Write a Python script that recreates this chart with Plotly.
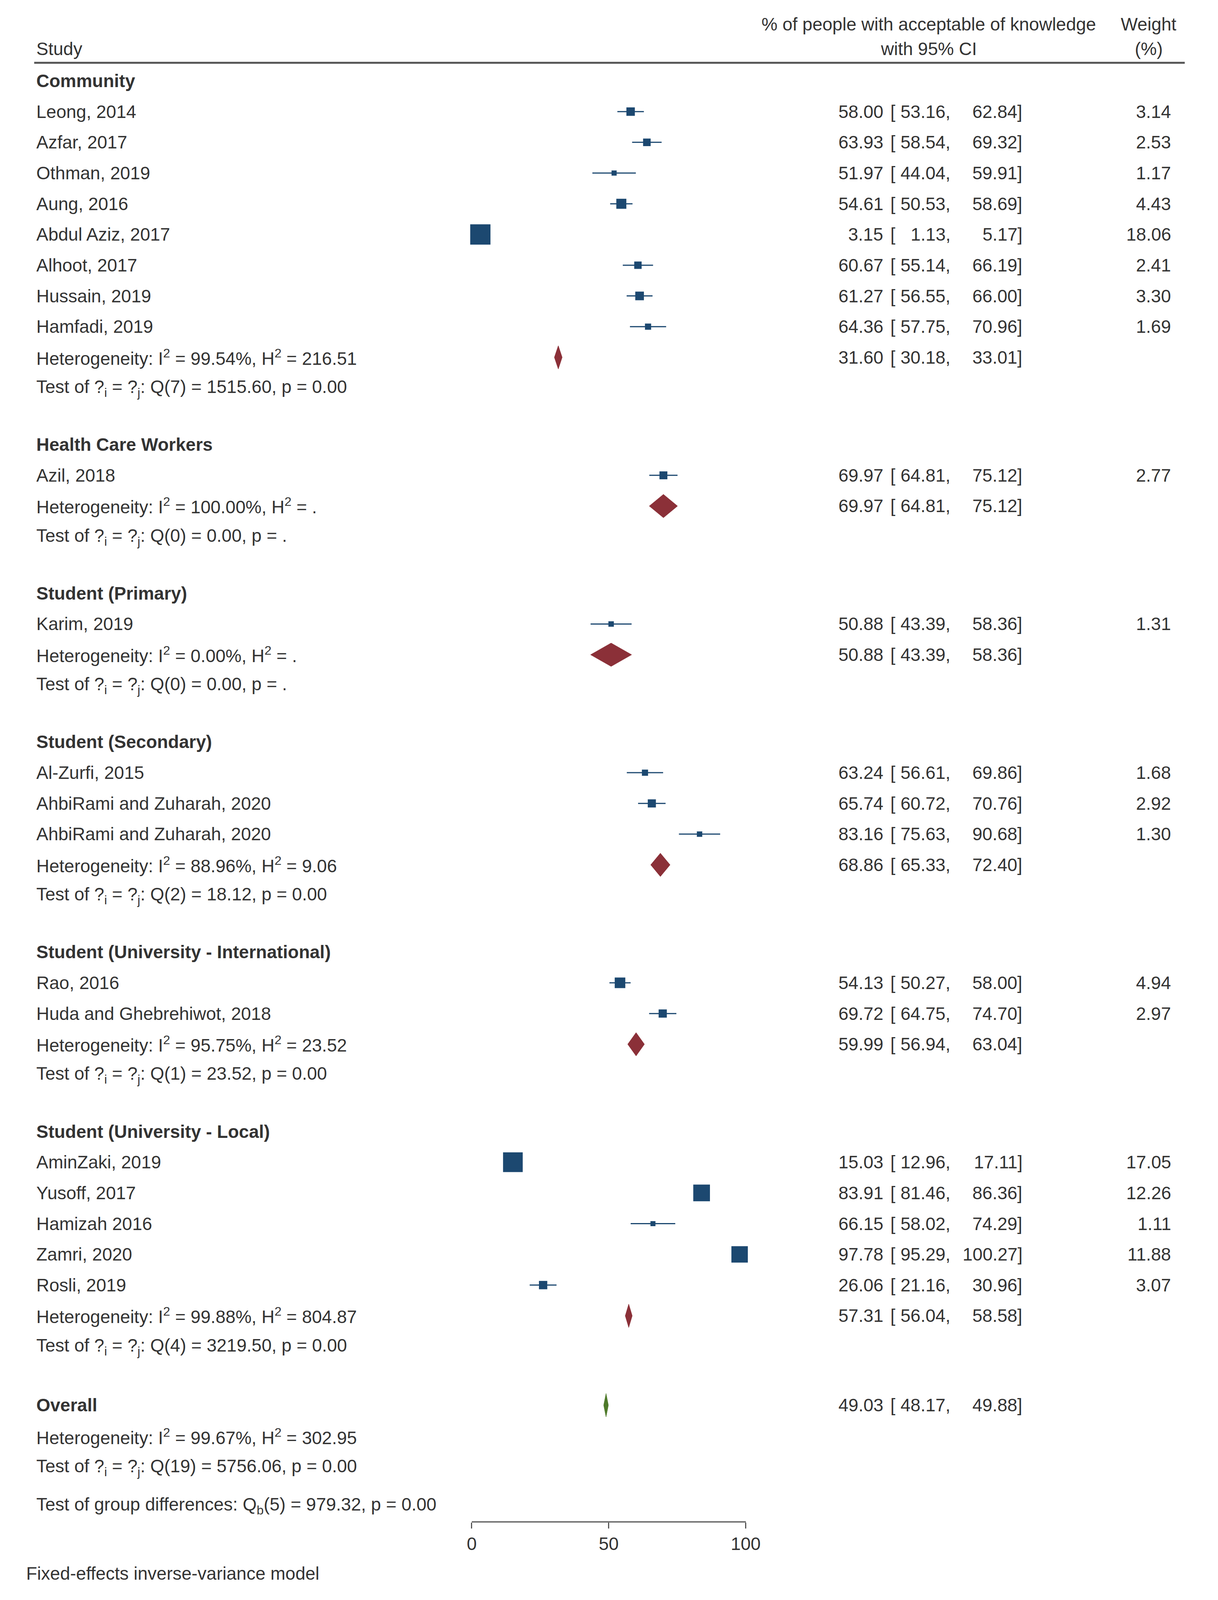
import plotly.graph_objects as go

W, H = 3119, 4275

# ---------------- data ----------------
group_names = ["Community", "Health Care Workers", "Student (Primary)", "Student (Secondary)",
               "Student (University - International)", "Student (University - Local)"]

study_names = ["Leong, 2014", "Azfar, 2017", "Othman, 2019", "Aung, 2016", "Abdul Aziz, 2017",
               "Alhoot, 2017", "Hussain, 2019", "Hamfadi, 2019",
               "Azil, 2018",
               "Karim, 2019",
               "Al-Zurfi, 2015", "AhbiRami and Zuharah, 2020", "AhbiRami and Zuharah, 2020",
               "Rao, 2016", "Huda and Ghebrehiwot, 2018",
               "AminZaki, 2019", "Yusoff, 2017", "Hamizah 2016", "Zamri, 2020", "Rosli, 2019"]
study_group = [0, 0, 0, 0, 0, 0, 0, 0, 1, 2, 3, 3, 3, 4, 4, 5, 5, 5, 5, 5]
study_est = [58.00, 63.93, 51.97, 54.61, 3.15, 60.67, 61.27, 64.36,
             69.97, 50.88, 63.24, 65.74, 83.16, 54.13, 69.72,
             15.03, 83.91, 66.15, 97.78, 26.06]
study_lo = [53.16, 58.54, 44.04, 50.53, 1.13, 55.14, 56.55, 57.75,
            64.81, 43.39, 56.61, 60.72, 75.63, 50.27, 64.75,
            12.96, 81.46, 58.02, 95.29, 21.16]
study_hi = [62.84, 69.32, 59.91, 58.69, 5.17, 66.19, 66.00, 70.96,
            75.12, 58.36, 69.86, 70.76, 90.68, 58.00, 74.70,
            17.11, 86.36, 74.29, 100.27, 30.96]
study_weight = [3.14, 2.53, 1.17, 4.43, 18.06, 2.41, 3.30, 1.69,
                2.77, 1.31, 1.68, 2.92, 1.30, 4.94, 2.97,
                17.05, 12.26, 1.11, 11.88, 3.07]

pooled_est = [31.60, 69.97, 50.88, 68.86, 59.99, 57.31]
pooled_lo = [30.18, 64.81, 43.39, 65.33, 56.94, 56.04]
pooled_hi = [33.01, 75.12, 58.36, 72.40, 63.04, 58.58]
het_I2 = ["99.54%", "100.00%", "0.00%", "88.96%", "95.75%", "99.88%"]
het_H2 = ["216.51", ".", ".", "9.06", "23.52", "804.87"]
q_df = [7, 0, 0, 2, 1, 4]
q_val = ["1515.60", "0.00", "0.00", "18.12", "23.52", "3219.50"]
q_p = ["0.00", ".", ".", "0.00", "0.00", "0.00"]

overall_est, overall_lo, overall_hi = 49.03, 48.17, 49.88
overall_I2, overall_H2 = "99.67%", "302.95"
overall_df, overall_Q, overall_p = 19, "5756.06", "0.00"
between_df, between_Q, between_p = 5, "979.32", "0.00"

x_ticks = [0, 50, 100]

# ---------------- style ----------------
FONT = "Liberation Sans, Arial, sans-serif"
FS = 46
TXT = "#333333"
NAVY = "#1c4870"
MAROON = "#8b3038"
GREEN = "#4e7a2a"

ROW_PX = 82.4        # pixel pitch of a row (reference scale)
ROW0_PX = 291        # pixel y of row 0
AXIS_PX = 4072       # pixel y of x axis line
y_top = -ROW0_PX / ROW_PX
y_bot = (AXIS_PX - ROW0_PX) / ROW_PX

X_LABEL = 72
X_EST = 2292
X_BRK = 2307
X_LO = 2468
X_HI = 2656
X_W = 3045

fig = go.Figure()
ann = []


def txt(xpx, row, text, anchor="left", size=FS):
    ann.append(dict(x=xpx / W, xref="paper", y=row, yref="y", text=text,
                    xanchor=anchor, yanchor="middle", showarrow=False,
                    font=dict(family=FONT, size=size, color=TXT)))


def ci_text(row, e, lo, hi, w=None):
    txt(X_EST, row, f"{e:.2f}", "right")
    txt(X_BRK, row, "[", "left")
    txt(X_LO, row, f"{lo:.2f},", "right")
    txt(X_HI, row, f"{hi:.2f}]", "right")
    if w is not None:
        txt(X_W, row, f"{w:.2f}", "right")


def diamond(row, e, lo, hi, color, h=0.38):
    fig.add_trace(go.Scatter(x=[lo, e, hi, e, lo], y=[row, row - h, row, row + h, row],
                             mode="lines", fill="toself", fillcolor=color,
                             line=dict(color=color, width=1), hoverinfo="skip",
                             showlegend=False, cliponaxis=False))


# headers
txt(2409, -2.84, "% of people with acceptable of knowledge", "center")
txt(2409, -2.05, "with 95% CI", "center")
txt(2985, -2.84, "Weight", "center")
txt(2985, -2.05, "(%)", "center")
txt(X_LABEL, -2.05, "Study", "left")

GAP = 1.84
r = -1.0
sx, sy, ssize, serr_p, serr_m = [], [], [], [], []
for g, gname in enumerate(group_names):
    txt(X_LABEL, r, f"<b>{gname}</b>", "left")
    rr = r + 1
    for i, name in enumerate(study_names):
        if study_group[i] != g:
            continue
        txt(X_LABEL, rr, name, "left")
        ci_text(rr, study_est[i], study_lo[i], study_hi[i], study_weight[i])
        sx.append(study_est[i])
        sy.append(rr)
        ssize.append(12.2 * study_weight[i] ** 0.5)
        serr_p.append(study_hi[i] - study_est[i])
        serr_m.append(study_est[i] - study_lo[i])
        rr += 1
    txt(X_LABEL, rr, f"Heterogeneity: I<sup>2</sup> = {het_I2[g]}, H<sup>2</sup> = {het_H2[g]}", "left")
    ci_text(rr, pooled_est[g], pooled_lo[g], pooled_hi[g])
    diamond(rr, pooled_est[g], pooled_lo[g], pooled_hi[g], MAROON)
    rr += 1
    txt(X_LABEL, rr, f"Test of ?<sub>i</sub> = ?<sub>j</sub>: Q({q_df[g]}) = {q_val[g]}, p = {q_p[g]}", "left")
    r = rr + GAP

r += 0.07
txt(X_LABEL, r, "<b>Overall</b>", "left")
ci_text(r, overall_est, overall_lo, overall_hi)
diamond(r, overall_est, overall_lo, overall_hi, GREEN)
txt(X_LABEL, r + 1.02, f"Heterogeneity: I<sup>2</sup> = {overall_I2}, H<sup>2</sup> = {overall_H2}", "left")
txt(X_LABEL, r + 2.02, f"Test of ?<sub>i</sub> = ?<sub>j</sub>: Q({overall_df}) = {overall_Q}, p = {overall_p}", "left")
txt(X_LABEL, r + 3.27, f"Test of group differences: Q<sub>b</sub>({between_df}) = {between_Q}, p = {between_p}", "left")

ann.append(dict(x=45 / W, xref="paper", y=1 - 4212 / H, yref="paper",
                text="Fixed-effects inverse-variance model", xanchor="left", yanchor="middle",
                showarrow=False, font=dict(family=FONT, size=FS, color=TXT)))

fig.add_trace(go.Scatter(
    x=sx, y=sy, mode="markers",
    marker=dict(symbol="square", size=ssize, color=NAVY, opacity=1, line=dict(width=0)),
    error_x=dict(type="data", symmetric=False, array=serr_p, arrayminus=serr_m,
                 width=0, thickness=3, color=NAVY),
    hoverinfo="skip", showlegend=False, cliponaxis=False))

shapes = [dict(type="line", xref="paper", yref="y", x0=68 / W, x1=3079 / W,
               y0=(160 - ROW0_PX) / ROW_PX, y1=(160 - ROW0_PX) / ROW_PX,
               line=dict(color="#555555", width=5))]

fig.update_layout(
    autosize=True, margin=dict(l=0, r=0, t=0, b=0),
    paper_bgcolor="white", plot_bgcolor="white",
    annotations=ann, shapes=shapes, showlegend=False,
    xaxis=dict(domain=[1213 / W, 1930 / W], range=[0, 100], tickvals=x_ticks,
               showline=True, linecolor="#777777", linewidth=4, ticks="outside",
               ticklen=15, tickwidth=3, tickcolor="#555555", showgrid=False, zeroline=False,
               tickfont=dict(family=FONT, size=FS, color=TXT)),
    yaxis=dict(domain=[1 - AXIS_PX / H, 1], range=[y_bot, y_top], visible=False,
               showgrid=False, zeroline=False),
)

fig.write_html("out.html", default_width="100%", default_height="calc(100vh - 16px)",
               config={"responsive": True, "displayModeBar": False})
